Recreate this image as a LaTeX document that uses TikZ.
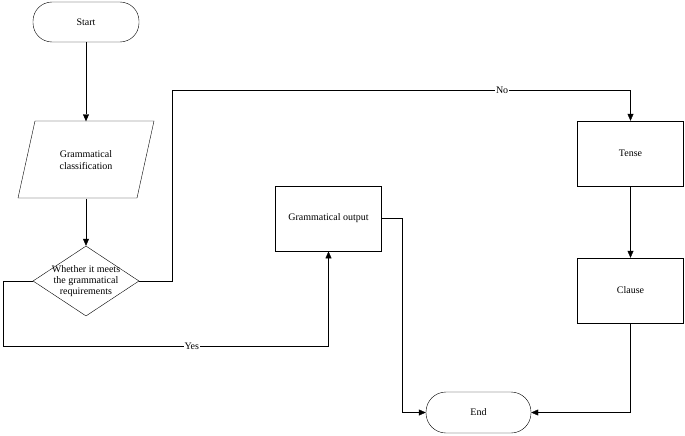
\documentclass[tikz,border=0pt]{standalone}
\usepackage{fontspec}
\setmainfont{Liberation Serif}
\usetikzlibrary{shapes.geometric,arrows.meta}
\begin{document}
\begin{tikzpicture}[x=1pt,y=-1pt,font=\fontsize{10}{12}\selectfont,
  box/.style={draw,thin,minimum width=106pt,minimum height=65pt,inner sep=0pt},
  term/.style={draw,thin,rounded corners=19pt,minimum width=106pt,minimum height=40pt,inner sep=0pt},
  line/.style={draw,thin},
  arr/.style={thin,-{Triangle[length=7pt,width=6pt]}},
  lab/.style={fill=white,inner sep=1pt}]
\useasboundingbox (0,0) rectangle (685,436);
\node[term] (start) at (86,22) {Start};
\node[align=center,minimum width=102pt,minimum height=77pt,inner sep=0pt] (cls) at (86,160) {Grammatical\\classification};
\draw[thin] (35,121) -- (154,121) -- (137,198) -- (18,198) -- cycle;
\node[draw,thin,diamond,aspect=1.55,minimum width=106pt,minimum height=70pt,inner sep=0pt] (dec) at (86,281) {};
\node[align=center,font=\fontsize{10}{11}\selectfont] (dect) at (86,281) {Whether it meets\\the grammatical\\requirements};
\node[box] (tense) at (630.5,153.5) {Tense};
\node[box] (clause) at (630.5,290.5) {Clause};
\node[box,anchor=north,text height=6pt] (out) at (328.5,186) {};
\node (outt) at (328.5,218) {Grammatical output};
\node[term,minimum width=105pt,minimum height=41pt,rounded corners=20pt] (end) at (478.5,412.5) {End};
\coordinate (n1) at (172,281);
\coordinate (n2) at (172,90);
\coordinate (n3) at (630.5,90);
\coordinate (y1) at (3,281);
\coordinate (y2) at (3,346);
\coordinate (y3) at (328.5,346);
\coordinate (o1) at (402,218);
\coordinate (o2) at (402,412.5);
\coordinate (c1) at (630.5,412.5);
\draw[arr] (start) -- (cls);
\draw[arr] (cls) -- (dec.north);
\draw[line] (dec.east) -- (n1) -- (n2) -- node[lab,pos=0.72]{No} (n3);
\draw[arr] (n3) -- (tense.north);
\draw[arr] (tense) -- (clause);
\draw[line] (dec.west) -- (y1) -- (y2) -- node[lab,pos=0.58]{Yes} (y3);
\draw[arr] (y3) -- (out.south);
\draw[line] (out.east |- o1) -- (o1) -- (o2);
\draw[arr] (o2) -- (end.west);
\draw[line] (clause.south) -- (c1);
\draw[arr] (c1) -- (end.east);
\end{tikzpicture}
\end{document}
